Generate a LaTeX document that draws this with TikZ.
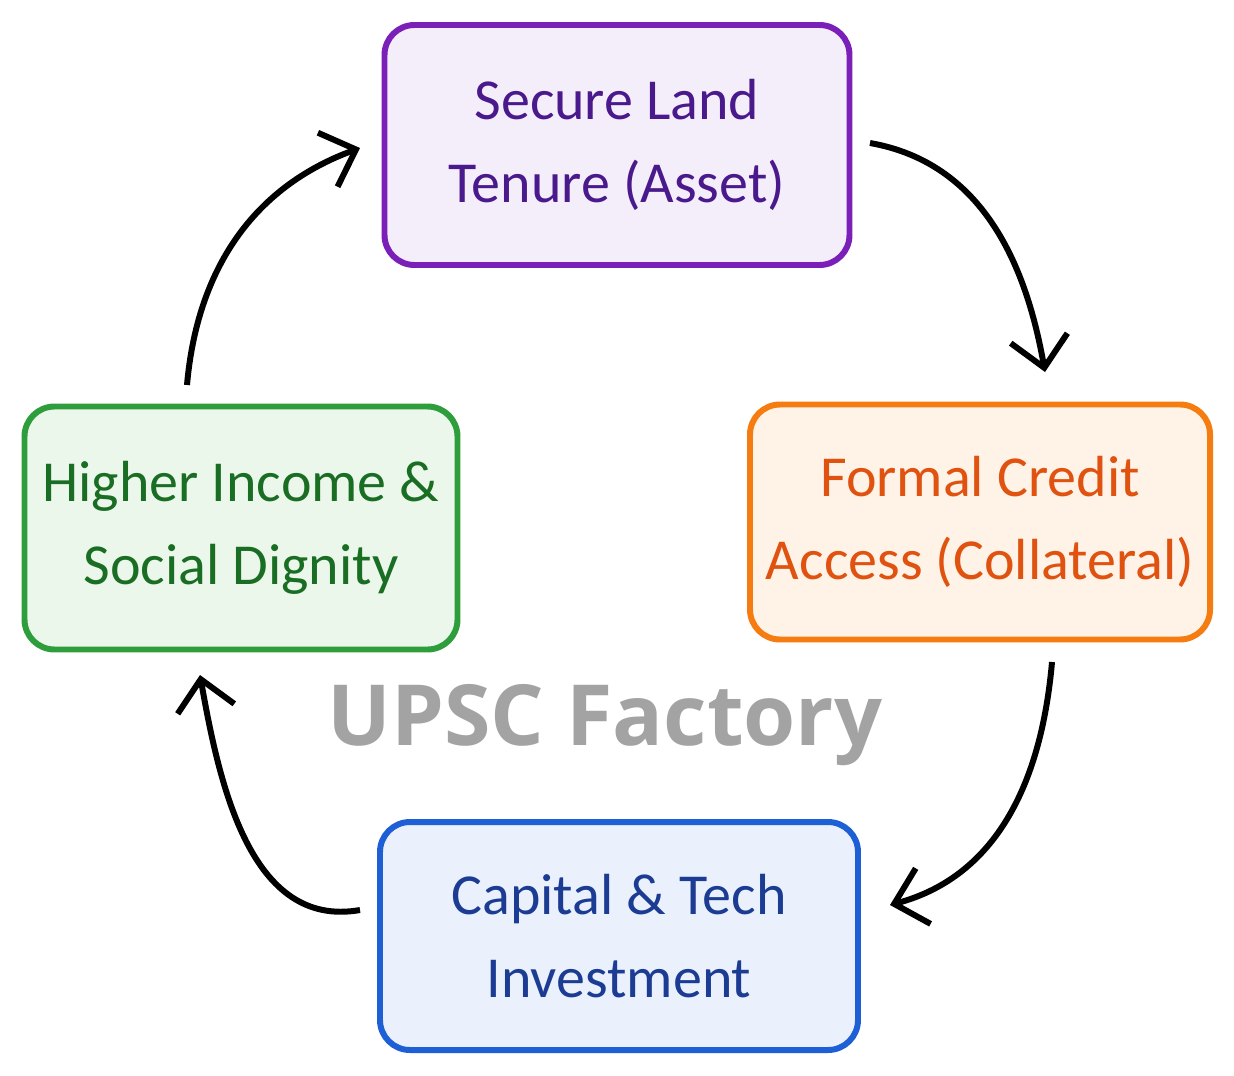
\documentclass[tikz,border=0pt]{standalone}
\usepackage{fontspec}
\setmainfont{Carlito}
\newfontfamily\markfont{Open Sans}
\usetikzlibrary{arrows.meta}

\definecolor{landline}{HTML}{7A1FB8}
\definecolor{landfill}{HTML}{F4EEFB}
\definecolor{landtext}{HTML}{4A1A8C}
\definecolor{creditline}{HTML}{F57C10}
\definecolor{creditfill}{HTML}{FFF3E8}
\definecolor{credittext}{HTML}{E0520F}
\definecolor{capline}{HTML}{1F5FD6}
\definecolor{capfill}{HTML}{EAF1FC}
\definecolor{captext}{HTML}{1B3C92}
\definecolor{incline}{HTML}{2E9E3C}
\definecolor{incfill}{HTML}{ECF7EC}
\definecolor{inctext}{HTML}{1A6E24}

\begin{document}
\begin{tikzpicture}[
                    every node/.style={
                        rectangle,
                        rounded corners=0.6cm,
                        line width=3.4pt,
                        align=center,
                        font=\fontsize{33}{47}\selectfont
                    },
                    cyclearrow/.style={
                        line width=3.4pt,
                        -{Straight Barb[length=0.6cm,width=1.15cm,line width=3.4pt]}
                    }
                ]
                    \useasboundingbox (0,0) rectangle (24.68,-21.5);

                    \node[draw=landline, fill=landfill, text=landtext,
                          minimum width=9.3cm, minimum height=4.8cm] (land) at (12.34,-2.9)
                          {Secure Land\\Tenure (Asset)};
                    \node[draw=creditline, fill=creditfill, text=credittext,
                          minimum width=9.2cm, minimum height=4.7cm] (credit) at (19.6,-10.44)
                          {Formal Credit\\Access (Collateral)};
                    \node[draw=capline, fill=capfill, text=captext,
                          minimum width=9.56cm, minimum height=4.56cm] (capital) at (12.38,-18.72)
                          {Capital \& Tech\\Investment};
                    \node[draw=incline, fill=incfill, text=inctext,
                          minimum width=8.66cm, minimum height=4.86cm] (income) at (4.82,-10.56)
                          {Higher Income \&\\Social Dignity};

                    \node[draw=none, fill=none, text=black!36,
                          font=\markfont\bfseries\fontsize{48}{56}\selectfont] (mark) at (12.1,-14.5)
                          {UPSC Factory};

                    % Arrow ends
                    \coordinate (a1) at (17.4,-2.86);
                    \coordinate (b1) at (20.9,-7.44);
                    \coordinate (a2) at (21.04,-13.24);
                    \coordinate (b2) at (17.8,-18.1);
                    \coordinate (a3) at (7.2,-18.2);
                    \coordinate (b3) at (4.0,-13.5);
                    \coordinate (a4) at (3.74,-7.7);
                    \coordinate (b4) at (7.2,-2.96);

                    % Edges
                    \draw[cyclearrow] (a1) to[out=-10, in=100] (b1);
                    \draw[cyclearrow] (a2) to[out=-95, in=15] (b2);
                    \draw[cyclearrow] (a3) to[out=190, in=-80] (b3);
                    \draw[cyclearrow] (a4) to[out=85, in=200] (b4);
                \end{tikzpicture}
\end{document}
